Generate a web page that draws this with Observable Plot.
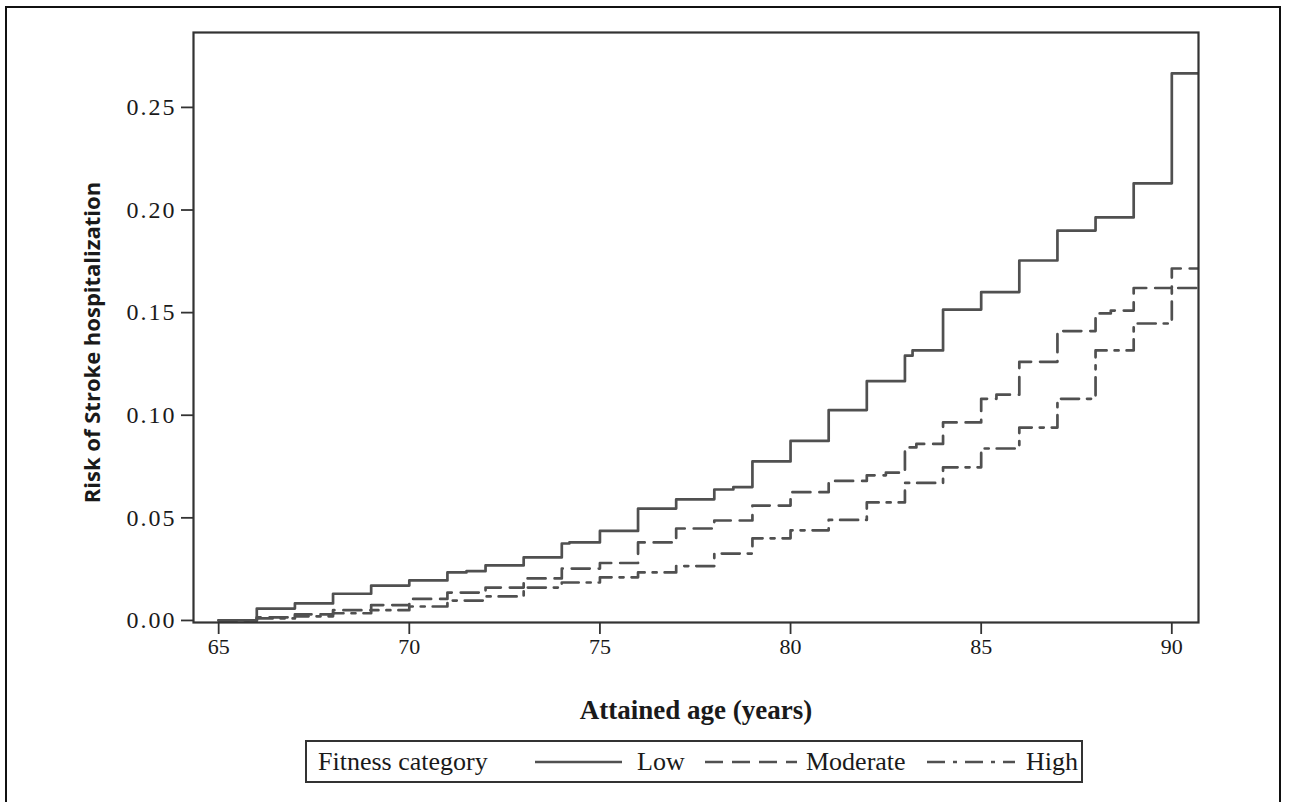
<!DOCTYPE html>
<html><head><meta charset="utf-8">
<script src="https://cdn.jsdelivr.net/npm/d3@7"></script>
<script src="https://cdn.jsdelivr.net/npm/@observablehq/plot@0.6"></script>
<style>
html,body{margin:0;padding:0;background:#fff;}
body{width:1290px;height:802px;overflow:hidden;position:relative;font-family:"Liberation Serif",serif;}
#border{position:absolute;left:5px;top:6px;width:1276px;height:830px;border:2.5px solid #111;box-sizing:border-box;}
#chart{position:absolute;left:0;top:0;}
#chart [aria-label="y-axis tick label"] text{letter-spacing:2px;}
#legend{position:absolute;left:305px;top:740px;width:778px;height:43px;box-sizing:border-box;border:2px solid #333;font-size:26px;color:#1a1a1a;}
#legend .t{position:absolute;top:50%;transform:translateY(-50%);white-space:nowrap;line-height:1;}
#legend svg{position:absolute;top:50%;transform:translateY(-50%);}
</style></head>
<body>
<div id="border"></div>
<div id="chart"></div>
<div id="legend"></div>
<script>
// ---- data ----
const seriesNames = ["Low", "Moderate", "High"];
const legendTitle = "Fitness category";
const xTicks = [65, 70, 75, 80, 85, 90];
const yTicks = [0, 0.05, 0.10, 0.15, 0.20, 0.25];
const xDomain = [64.34, 90.7];
const yDomain = [-0.001, 0.2865];

const lowAge  = [65, 66, 67, 68, 69, 70, 71, 71.5, 72, 73, 74, 74.2, 75, 76, 77, 78, 78.5, 79, 80, 81, 82, 83, 83.2, 84, 85, 86, 87, 88, 89, 90];
const lowRisk = [0, 0.0058, 0.0083, 0.013, 0.017, 0.0195, 0.0234, 0.024, 0.0268, 0.0307, 0.0375, 0.038, 0.0436, 0.0545, 0.059, 0.0638, 0.065, 0.0775, 0.0875, 0.1025, 0.1166, 0.129, 0.1316, 0.1515, 0.160, 0.1754, 0.190, 0.1964, 0.213, 0.2666];

const modAge  = [65, 66, 67, 68, 69, 70, 71, 72, 73, 74, 75, 76, 77, 78, 79, 80, 81, 82, 82.5, 83, 83.3, 84, 85, 85.4, 86, 87, 88, 88.4, 89, 90];
const modRisk = [0, 0.0015, 0.003, 0.005, 0.0075, 0.0105, 0.0136, 0.016, 0.0205, 0.0253, 0.028, 0.038, 0.0448, 0.0487, 0.056, 0.0625, 0.068, 0.0707, 0.072, 0.0843, 0.086, 0.0965, 0.108, 0.110, 0.126, 0.141, 0.1496, 0.151, 0.162, 0.1715];

const highAge  = [65, 66, 67, 68, 69, 70, 71, 72, 73, 74, 75, 76, 77, 78, 79, 80, 81, 82, 83, 84, 85, 86, 87, 88, 89, 90];
const highRisk = [0, 0.001, 0.002, 0.0035, 0.005, 0.0068, 0.0097, 0.0117, 0.016, 0.0185, 0.021, 0.0234, 0.0265, 0.0326, 0.040, 0.0439, 0.049, 0.0575, 0.067, 0.0746, 0.0838, 0.094, 0.108, 0.1316, 0.1447, 0.162];

const dashes = {Low: null, Moderate: "18,9", High: "18,8,4,8"};
const lineColor = "#505050";

// ---- build rows ----
function build(name, ages, risks) {
  const r = ages.map((a, i) => ({group: name, age: a, risk: risks[i]}));
  r.push({group: name, age: xDomain[1], risk: risks[risks.length - 1]});
  return r;
}
const series = {
  Low: build("Low", lowAge, lowRisk),
  Moderate: build("Moderate", modAge, modRisk),
  High: build("High", highAge, highRisk)
};

const chart = Plot.plot({
  width: 1290, height: 730,
  marginLeft: 193, marginRight: 92, marginTop: 32, marginBottom: 108,
  style: {fontFamily: '"Liberation Serif", serif', fontSize: "22px", color: "#1a1a1a", background: "transparent", overflow: "visible"},
  x: {domain: xDomain},
  y: {domain: yDomain},
  marks: [
    ...seriesNames.map(n => Plot.line(series[n], {
      x: "age", y: "risk", curve: "step-after", stroke: lineColor, strokeWidth: 2.7,
      strokeDasharray: dashes[n] || undefined, clip: true
    })),
    Plot.frame({stroke: "#333", strokeWidth: 2.2}),
    Plot.axisX({ticks: xTicks, tickSize: 12, tickPadding: 4, label: null, fontSize: 22, stroke: "#333", strokeWidth: 1.8}),
    Plot.axisY({ticks: yTicks, tickSize: 12, tickPadding: 5, label: null, fontSize: 24, stroke: "#333", strokeWidth: 1.8, tickFormat: d3.format(".2f")}),
    Plot.text(["Risk of Stroke hospitalization"], {frameAnchor: "left", textAnchor: "middle", dx: -101, dy: 15, rotate: -90, fontFamily: '"Open Sans", sans-serif', fontWeight: "bold", fontSize: 22, fill: "#1a1a1a"}),
    Plot.text(["Attained age (years)"], {frameAnchor: "bottom", dy: 96, fontWeight: "bold", fontSize: 27, fill: "#1a1a1a"})
  ]
});
document.getElementById("chart").appendChild(chart);

// ---- legend ----
const lg = document.getElementById("legend");
function addText(txt, left) {
  const s = document.createElement("span");
  s.className = "t"; s.textContent = txt; s.style.left = left + "px";
  lg.appendChild(s);
}
function addLine(name, left, w) {
  const svg = d3.create("svg").attr("width", w).attr("height", 6).style("left", left + "px");
  svg.append("line").attr("x1", 0).attr("x2", w).attr("y1", 3).attr("y2", 3)
    .attr("stroke", lineColor).attr("stroke-width", 2.7)
    .attr("stroke-dasharray", dashes[name]);
  lg.appendChild(svg.node());
}
addText(legendTitle, 11);
addLine("Low", 228, 87);  addText("Low", 330);
addLine("Moderate", 398, 92); addText("Moderate", 499);
addLine("High", 620, 88); addText("High", 719);
</script>
</body></html>
